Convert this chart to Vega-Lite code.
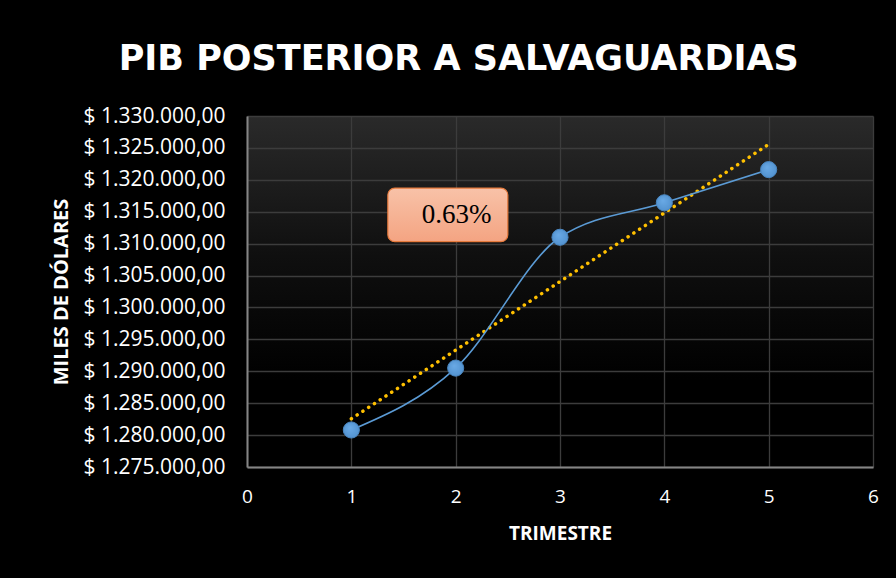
{
  "$schema": "https://vega.github.io/schema/vega-lite/v6.json",
  "width": 626,
  "height": 351,
  "autosize": {"type": "none"},
  "padding": {"left": 247, "top": 116, "right": 23, "bottom": 111},
  "background": "#000000",
  "config": {
    "locale": {"number": {"decimal": ",", "thousands": ".", "grouping": [3], "currency": ["$ ", ""]}},
    "view": {"stroke": null, "fill": {"gradient": "linear", "x1": 0, "y1": 0, "x2": 0, "y2": 1, "stops": [{"offset": 0, "color": "#2a2a2a"}, {"offset": 0.4, "color": "#0f0f0f"}, {"offset": 0.75, "color": "#000000"}, {"offset": 1, "color": "#000000"}]}},
    "font": "Open Sans"
  },
  "title": {
    "text": "PIB POSTERIOR A SALVAGUARDIAS",
    "frame": "bounds",
    "anchor": "middle",
    "fontSize": 35,
    "fontWeight": "bold",
    "color": "#ffffff",
    "font": "DejaVu Sans",
    "dx": -6,
    "offset": 28
  },
  "datasets": {
    "pib": [
      {"trimestre": 1, "pib": 1280800},
      {"trimestre": 2, "pib": 1290500},
      {"trimestre": 3, "pib": 1311000},
      {"trimestre": 4, "pib": 1316400},
      {"trimestre": 5, "pib": 1321600}
    ],
    "caja": [
      {"x1": 1.35, "x2": 2.5, "y1": 1318700, "y2": 1310300, "tx": 2.01, "ty": 1314500, "label": "0.63%"}
    ]
  },
  "layer": [
    {
      "data": {"name": "pib"},
      "transform": [{"regression": "pib", "on": "trimestre", "extent": [1, 5]}],
      "mark": {"type": "line", "color": "#ffc000", "strokeWidth": 3.5, "strokeDash": [0.1, 6.8], "strokeCap": "round"},
      "encoding": {
        "x": {"field": "trimestre", "type": "quantitative", "scale": {"domain": [0, 6]},
          "axis": {"title": "TRIMESTRE", "values": [0, 1, 2, 3, 4, 5, 6], "tickCount": 20, "format": "d", "grid": true, "gridColor": "#3c3c3c", "gridWidth": 1.3, "domainColor": "#858585", "domainWidth": 2, "ticks": false, "labelFlush": false, "labelOverlap": false, "labelColor": "#ffffff", "labelFontSize": 19, "labelPadding": 20, "titleColor": "#ffffff", "titleFontSize": 19, "titleFontWeight": "bold", "titlePadding": 18, "labelFont": "Open Sans", "titleFont": "Open Sans"}},
        "y": {"field": "pib", "type": "quantitative", "scale": {"domain": [1275000, 1330000], "zero": false, "nice": false},
          "axis": {"title": "MILES DE DÓLARES", "values": [1275000, 1280000, 1285000, 1290000, 1295000, 1300000, 1305000, 1310000, 1315000, 1320000, 1325000, 1330000], "tickCount": 30, "format": "$,.2f", "grid": true, "gridColor": "#3c3c3c", "gridWidth": 1.3, "domainColor": "#858585", "domainWidth": 2, "ticks": false, "labelFlush": false, "labelOverlap": false, "labelColor": "#ffffff", "labelFontSize": 21, "labelPadding": 22, "titleColor": "#ffffff", "titleFontSize": 20, "titleFontWeight": "bold", "titlePadding": 12, "labelFont": "Open Sans", "titleFont": "Open Sans"}}
      }
    },
    {
      "data": {"name": "pib"},
      "mark": {"type": "line", "interpolate": "monotone", "color": "#5b9bd5", "strokeWidth": 1.6},
      "encoding": {
        "x": {"field": "trimestre", "type": "quantitative"},
        "y": {"field": "pib", "type": "quantitative"}
      }
    },
    {
      "data": {"name": "pib"},
      "mark": {"type": "circle", "size": 260, "opacity": 1, "stroke": "#4a86c0", "strokeWidth": 1,
        "fill": {"gradient": "radial", "x1": 0.4, "y1": 0.35, "r1": 0, "x2": 0.5, "y2": 0.5, "r2": 0.6, "stops": [{"offset": 0, "color": "#6aaae6"}, {"offset": 1, "color": "#4f8fcc"}]}},
      "encoding": {
        "x": {"field": "trimestre", "type": "quantitative"},
        "y": {"field": "pib", "type": "quantitative"}
      }
    },
    {
      "data": {"name": "caja"},
      "mark": {"type": "rect", "cornerRadius": 7, "stroke": "#e67a3c", "strokeWidth": 1.2,
        "fill": {"gradient": "linear", "x1": 0, "y1": 0, "x2": 0, "y2": 1, "stops": [{"offset": 0, "color": "#f8c2a8"}, {"offset": 1, "color": "#f4a482"}]}},
      "encoding": {
        "x": {"field": "x1", "type": "quantitative"},
        "x2": {"field": "x2"},
        "y": {"field": "y1", "type": "quantitative"},
        "y2": {"field": "y2"}
      }
    },
    {
      "data": {"name": "caja"},
      "mark": {"type": "text", "font": "Liberation Serif", "fontSize": 27, "color": "#000000", "baseline": "middle", "align": "center"},
      "encoding": {
        "x": {"field": "tx", "type": "quantitative"},
        "y": {"field": "ty", "type": "quantitative"},
        "text": {"field": "label"}
      }
    }
  ]
}
